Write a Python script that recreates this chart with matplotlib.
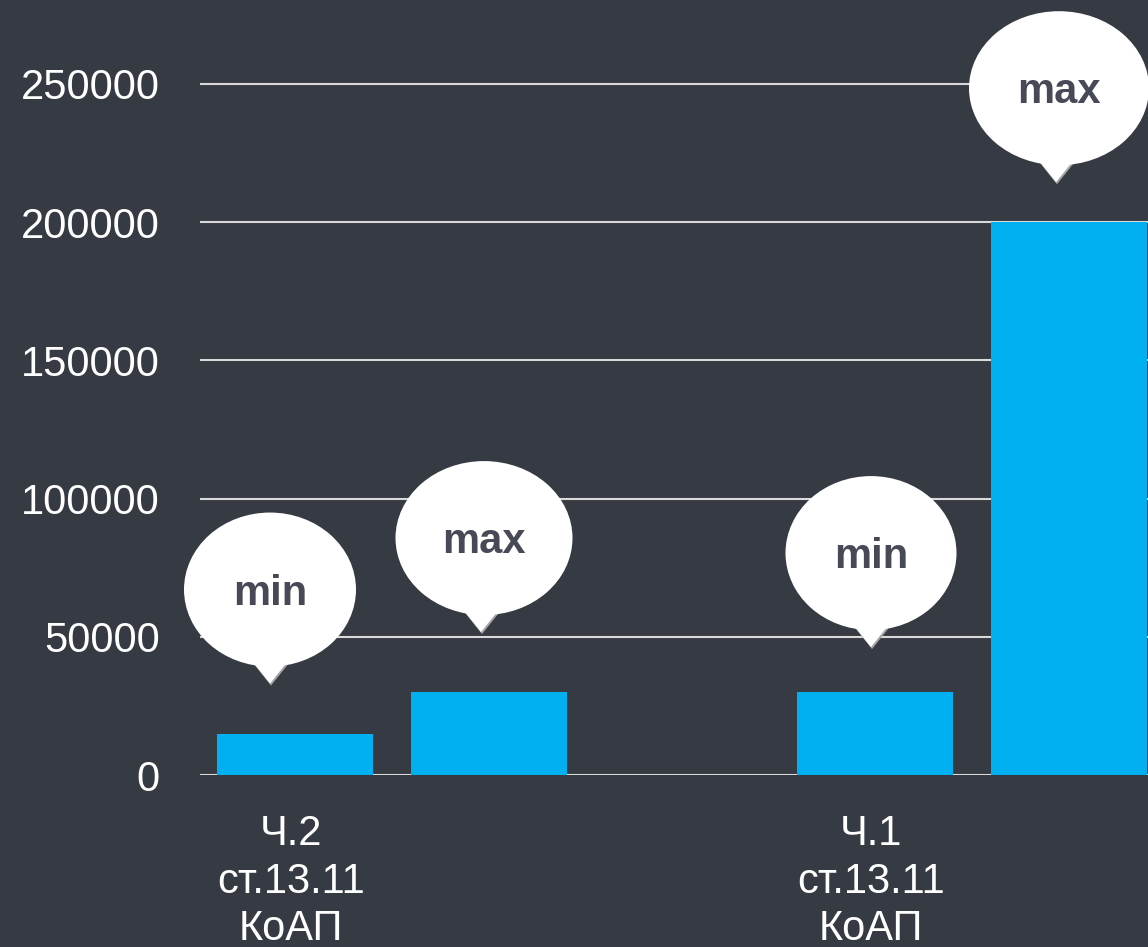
import numpy as np
import matplotlib
matplotlib.use('Agg')
import matplotlib.pyplot as plt
from matplotlib.patches import Ellipse, Polygon
from matplotlib.transforms import IdentityTransform

plt.rcParams['font.family'] = ['Liberation Sans', 'DejaVu Sans']

# data
categories = ['Ч.2\nст.13.11\nКоАП', 'Ч.1\nст.13.11\nКоАП']
min_values = [15000, 30000]
max_values = [30000, 200000]
yticks = [0, 50000, 100000, 150000, 200000, 250000]

bg = '#363a43'
bar_col = '#00b0f0'
grid_col = '#d9d9d9'
txt_col = '#474a56'

fig = plt.figure(figsize=(11.48, 9.47), dpi=100, facecolor=bg)
ax = fig.add_axes([200/1148, 172/947, 948/1148, 775/947])
ax.set_facecolor(bg)

x = np.arange(len(categories))
off = 194/580.  # spacing between min and max bar in a group
w = 156/580.
b1 = ax.bar(x, min_values, width=w, color=bar_col, zorder=3)
b2 = ax.bar(x + off, max_values, width=w, color=bar_col, zorder=3)

ax.set_xlim(-95/580., 853/580.)
ax.set_ylim(0, 280390)
ax.set_yticks(yticks)
ax.set_yticklabels([str(t) for t in yticks])
ax.set_xticks(x - 4/580.)
ax.set_xticklabels(categories, linespacing=1.25)
ax.tick_params(axis='y', length=0, pad=29, labelsize=30, labelcolor='white')
ax.tick_params(axis='x', length=0, pad=28, labelsize=30, labelcolor='white')
for s in ax.spines.values():
    s.set_visible(False)
ax.grid(axis='y', color=grid_col, linewidth=1.5, zorder=1)

# callouts: (tip dx from bar centre, tip height above bar top) in pixels
tip_off = [(-25, 50), (-8, 60), (-4, 45), (-13, 40)]
ell_dx = [0, 3, 0, 3]
ell_w = [172, 177, 171, 180]
ell_h = 154
ell_up = 94
labels = ['min', 'max', 'min', 'max']

fig.canvas.draw()
bars = [b1[0], b2[0], b1[1], b2[1]]
for i, br in enumerate(bars):
    cx = br.get_x() + br.get_width() / 2
    px, py = ax.transData.transform((cx, br.get_height()))
    tx = px + tip_off[i][0]
    ty = py + tip_off[i][1]
    ex = tx + ell_dx[i]
    ey = ty + ell_up
    h = 36
    shadow = Polygon([[tx + 1, ty - 2], [tx - 0.8*h + 1, ty + h - 2], [tx + 0.8*h + 1, ty + h - 2]],
                     closed=True, transform=IdentityTransform(), facecolor='#a6a6a6',
                     edgecolor='none', zorder=5)
    tri = Polygon([[tx, ty], [tx - 0.8*h, ty + h], [tx + 0.8*h, ty + h]],
                  closed=True, transform=IdentityTransform(), facecolor='white',
                  edgecolor='none', zorder=6)
    ell = Ellipse((ex, ey), ell_w[i], ell_h, transform=IdentityTransform(),
                  facecolor='white', edgecolor='none', zorder=7)
    fig.add_artist(shadow)
    fig.add_artist(tri)
    fig.add_artist(ell)
    fig.text(ex / fig.bbox.width, (ey - 4) / fig.bbox.height, labels[i], ha='center', va='center',
             fontsize=30, fontweight='bold', color=txt_col, zorder=8)

fig.savefig('out.png', dpi=100, facecolor=bg)
